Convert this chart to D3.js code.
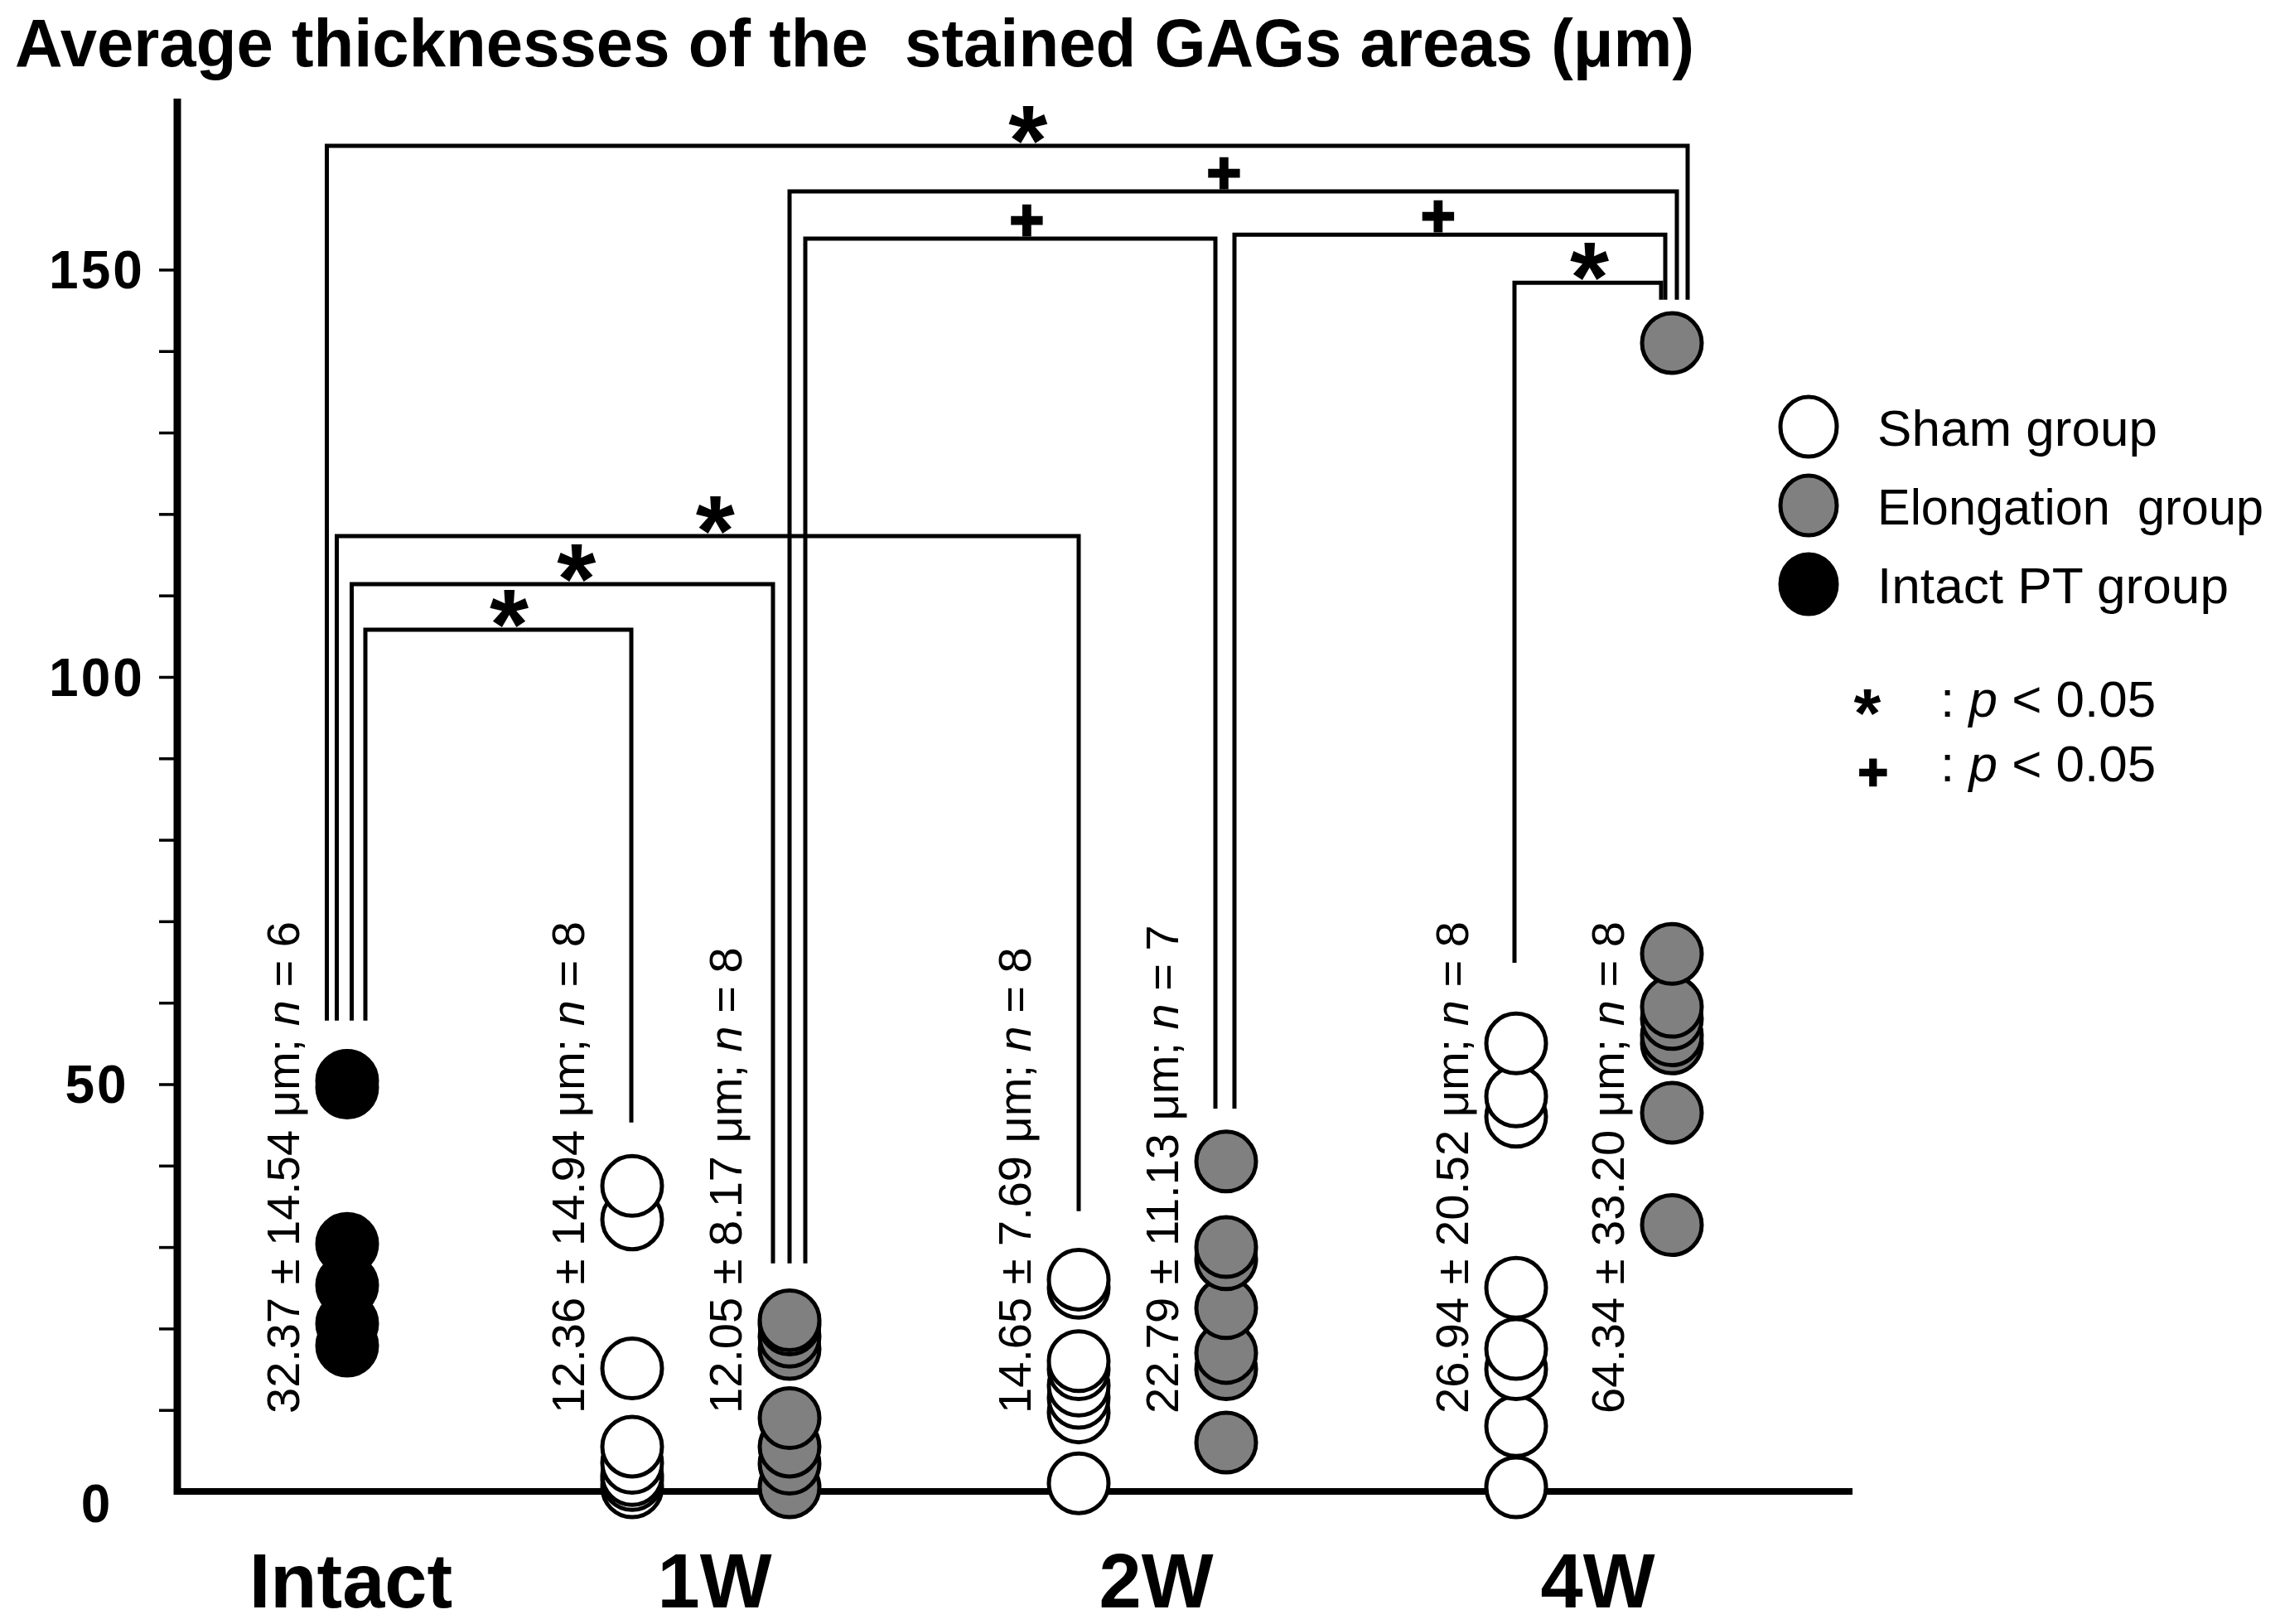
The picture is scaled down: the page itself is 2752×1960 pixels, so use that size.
<!DOCTYPE html>
<html><head><meta charset="utf-8">
<script src="https://cdn.jsdelivr.net/npm/d3@7"></script>
<style>html,body{margin:0;padding:0;background:#fff;} svg{display:block} text{white-space:pre;}</style>
</head><body><svg id="c" width="2752" height="1960"></svg>
<script>
// ---------------- DATA ----------------
const title = "Average thicknesses of the  stained GAGs areas (\u03bcm)";
const categories = ["Intact", "1W", "2W", "4W"];
const columnKeys = ["Intact", "1W-S", "1W-E", "2W-S", "2W-E", "4W-S", "4W-E"];
const columnCategory = ["Intact", "1W", "1W", "2W", "2W", "4W", "4W"];
const columnGroup = ["Intact PT", "Sham", "Elongation", "Sham", "Elongation", "Sham", "Elongation"];

const intactPT = [50.4, 49.6, 30.4, 25.3, 20.6, 17.9];
const sham1W   = [37.5, 33.4, 15.1, 5.5, 3.5, 2.0, 1.4, 0.5];
const elong1W  = [21.0, 20.5, 19.0, 17.5, 9.0, 5.5, 3.4, 0.5];
const sham2W   = [26.0, 25.0, 16.0, 15.0, 13.0, 11.5, 9.7, 1.0];
const elong2W  = [40.5, 30.0, 28.5, 22.5, 17.0, 15.0, 6.0];
const sham4W   = [55.0, 48.5, 46.0, 25.0, 17.5, 15.0, 8.0, 0.5];
const elong4W  = [141.0, 66.0, 59.5, 58.0, 56.0, 55.0, 46.5, 32.7];
const columnValues = [intactPT, sham1W, elong1W, sham2W, elong2W, sham4W, elong4W];

const meanLabels = ["32.37", "12.36", "12.05", "14.65", "22.79", "26.94", "64.34"];
const sdLabels   = ["14.54", "14.94", "8.17", "7.69", "11.13", "20.52", "33.20"];
const nLabels    = ["6", "8", "8", "8", "7", "8", "8"];

const yTickValues = [0, 50, 100, 150];
const yTickLabels = ["0", "50", "100", "150"];
const yMinorTicks = [10, 20, 30, 40, 50, 60, 70, 80, 90, 100, 110, 120, 130, 140, 150];

// significance brackets (column indices, level in µm, symbol)
const bracketFrom   = [0, 2, 2, 4, 5, 0, 0, 0];
const bracketTo     = [6, 6, 4, 6, 6, 3, 2, 1];
const bracketLevel  = [165.2, 159.6, 153.8, 154.3, 148.4, 117.3, 111.4, 105.8];
const bracketSymbol = ["*", "+", "+", "+", "*", "*", "*", "*"];
// value (µm) at which the bracket legs stop above each column
const legEnd = [57.8, 45.3, 28.0, 34.4, 47.0, 64.9, 146.3];

const legendLabels = ["Sham group", "Elongation  group", "Intact PT group"];
const legendGroups = ["Sham", "Elongation", "Intact PT"];

// ---------------- LAYOUT ----------------
const W = 2752, H = 1960;
const svg = d3.select("#c");
svg.append("rect").attr("width", W).attr("height", H).attr("fill", "#fff");

const y = d3.scaleLinear().domain([0, 171]).range([1800, 119]);
const colX = d3.scaleOrdinal().domain(columnKeys).range([419, 763, 953, 1302, 1480, 1830, 2018]);
const fillOf = d3.scaleOrdinal().domain(["Sham", "Elongation", "Intact PT"]).range(["#ffffff", "#808080", "#000000"]);
const legDxFrom = [-24.5, 0, 19, 10, -2, -12.5, 5.5, 22];
const legDxTo   = [19, 6, -13, -8, -13, 0, -20, -1];
const symDx     = [25, -11, 20, -14, 2, 9, 17, 13];

const FONT = "'Liberation Sans', Arial, Helvetica, sans-serif";
const canvas = document.createElement("canvas");
const ctx = canvas.getContext("2d");
function ink(text, font) {
  ctx.font = font;
  const m = ctx.measureText(text);
  return {L: m.actualBoundingBoxLeft, R: m.actualBoundingBoxRight, A: m.actualBoundingBoxAscent, D: m.actualBoundingBoxDescent};
}
// place a glyph so that its ink has the given height, horizontal centre and bottom
function glyph(g, text, targetH, cx, bottomY, sw) {
  sw = sw || 0;
  const m = ink(text, "bold 100px 'Liberation Sans'");
  const k = (targetH - sw) / (m.A + m.D);
  const x = cx - (m.R - m.L) / 2 * k;
  const yb = bottomY - sw / 2 - m.D * k;
  const t = g.append("text").attr("x", x).attr("y", yb)
    .attr("font-family", FONT).attr("font-weight", "bold")
    .attr("font-size", 100 * k).attr("fill", "#000").text(text);
  if (sw) t.attr("stroke", "#000").attr("stroke-width", sw).attr("stroke-linejoin", "miter");
  return t;
}

// ---------------- TITLE ----------------
svg.append("text").attr("x", 18).attr("y", 80)
  .attr("font-family", FONT).attr("font-weight", "bold").attr("font-size", 81)
  .attr("textLength", 2027).attr("lengthAdjust", "spacingAndGlyphs")
  .attr("fill", "#000").text(title);

// ---------------- AXES ----------------
const yAxis = d3.axisLeft(y).tickValues(yMinorTicks).tickSize(22).tickSizeOuter(0).tickFormat("");
const gy = svg.append("g").attr("transform", "translate(214,0)").call(yAxis);
gy.select(".domain").attr("stroke", "#000").attr("stroke-width", 9).attr("d", `M0,${y(0) + 4}V${y(171)}`);
gy.selectAll(".tick line").attr("stroke", "#000").attr("stroke-width", 3.5);

svg.append("g").selectAll("text").data(yTickValues).join("text")
  .attr("x", 117).attr("y", (d) => y(d) + 23 + (d === 0 ? 14 : 0))
  .attr("text-anchor", "middle")
  .attr("font-family", FONT).attr("font-weight", "bold").attr("font-size", 64)
  .attr("letter-spacing", 3)
  .attr("fill", "#000").text((d, i) => yTickLabels[i]);

// x axis line
svg.append("line").attr("x1", 210).attr("x2", 2236).attr("y1", y(0)).attr("y2", y(0))
  .attr("stroke", "#000").attr("stroke-width", 8);

// category labels
const catX = d3.scaleOrdinal().domain(categories).range(categories.map((c) => {
  const xs = columnKeys.filter((k, i) => columnCategory[i] === c).map((k) => colX(k));
  return d3.mean(xs) + 4;
}));
const gx = svg.append("g").call(d3.axisBottom(catX).tickSize(0));
gx.select(".domain").remove();
gx.selectAll(".tick text").attr("y", 1940).attr("dy", null)
  .attr("font-family", FONT).attr("font-weight", "bold").attr("font-size", 92).attr("fill", "#000");

// ---------------- BRACKETS ----------------
const gb = svg.append("g");
bracketFrom.forEach((f, i) => {
  const t = bracketTo[i];
  const x1 = colX(columnKeys[f]) + legDxFrom[i];
  const x2 = colX(columnKeys[t]) + legDxTo[i];
  const yl = y(bracketLevel[i]);
  gb.append("path")
    .attr("d", `M${x1},${y(legEnd[f])}V${yl}H${x2}V${y(legEnd[t])}`)
    .attr("fill", "none").attr("stroke", "#000").attr("stroke-width", 5)
    .attr("stroke-linejoin", "miter").attr("stroke-linecap", "butt");
  const cx = (x1 + x2) / 2 + symDx[i];
  if (bracketSymbol[i] === "*") glyph(gb, "*", 46, cx, yl - 2.5, 0);
  else glyph(gb, "+", 39, cx, yl - 2.5, 3);
});

// ---------------- COLUMN LABELS ----------------
const gl = svg.append("g");
columnKeys.forEach((k, i) => {
  const t = gl.append("text")
    .attr("transform", `translate(${colX(k) - 58},1706) rotate(-90)`)
    .attr("font-family", FONT).attr("font-size", 56).attr("fill", "#000");
  t.append("tspan").text(`${meanLabels[i]} \u00b1 ${sdLabels[i]} \u03bcm; `);
  t.append("tspan").attr("font-style", "italic").text("n");
  t.append("tspan").text(` = ${nLabels[i]}`);
});

// ---------------- POINTS ----------------
const gp = svg.append("g");
columnKeys.forEach((k, i) => {
  const vals = columnValues[i].slice().sort((a, b) => a - b);
  gp.append("g").selectAll("circle").data(vals).join("circle")
    .attr("cx", colX(k)).attr("cy", (d) => y(d)).attr("r", 36)
    .attr("fill", fillOf(columnGroup[i])).attr("stroke", "#000").attr("stroke-width", 5);
});

// ---------------- LEGEND ----------------
const gleg = svg.append("g");
const legY = d3.scalePoint().domain(legendGroups).range([515, 705]);
const legW = [338, 466, 424];
legendGroups.forEach((gname, i) => {
  gleg.append("ellipse").attr("cx", 2183).attr("cy", legY(gname)).attr("rx", 34).attr("ry", 36)
    .attr("fill", fillOf(gname)).attr("stroke", "#000").attr("stroke-width", 5);
  gleg.append("text").attr("x", 2266).attr("y", legY(gname) + 23)
    .attr("font-family", FONT).attr("font-size", 61).attr("fill", "#000")
    .attr("textLength", legW[i]).attr("lengthAdjust", "spacingAndGlyphs")
    .text(legendLabels[i]);
});
const sigSymbols = ["*", "+"];
const sigY = [865, 943];
sigSymbols.forEach((s, i) => {
  if (s === "*") glyph(gleg, "*", 32, 2254, sigY[i] - 1, 0);
  else glyph(gleg, "+", 34, 2261, sigY[i] + 6, 2.5);
  const t = gleg.append("text").attr("x", 2342).attr("y", sigY[i])
    .attr("font-family", FONT).attr("font-size", 62).attr("fill", "#000");
  t.append("tspan").text(": ");
  t.append("tspan").attr("font-style", "italic").text("p");
  t.append("tspan").text(" < 0.05");
});
</script></body></html>
